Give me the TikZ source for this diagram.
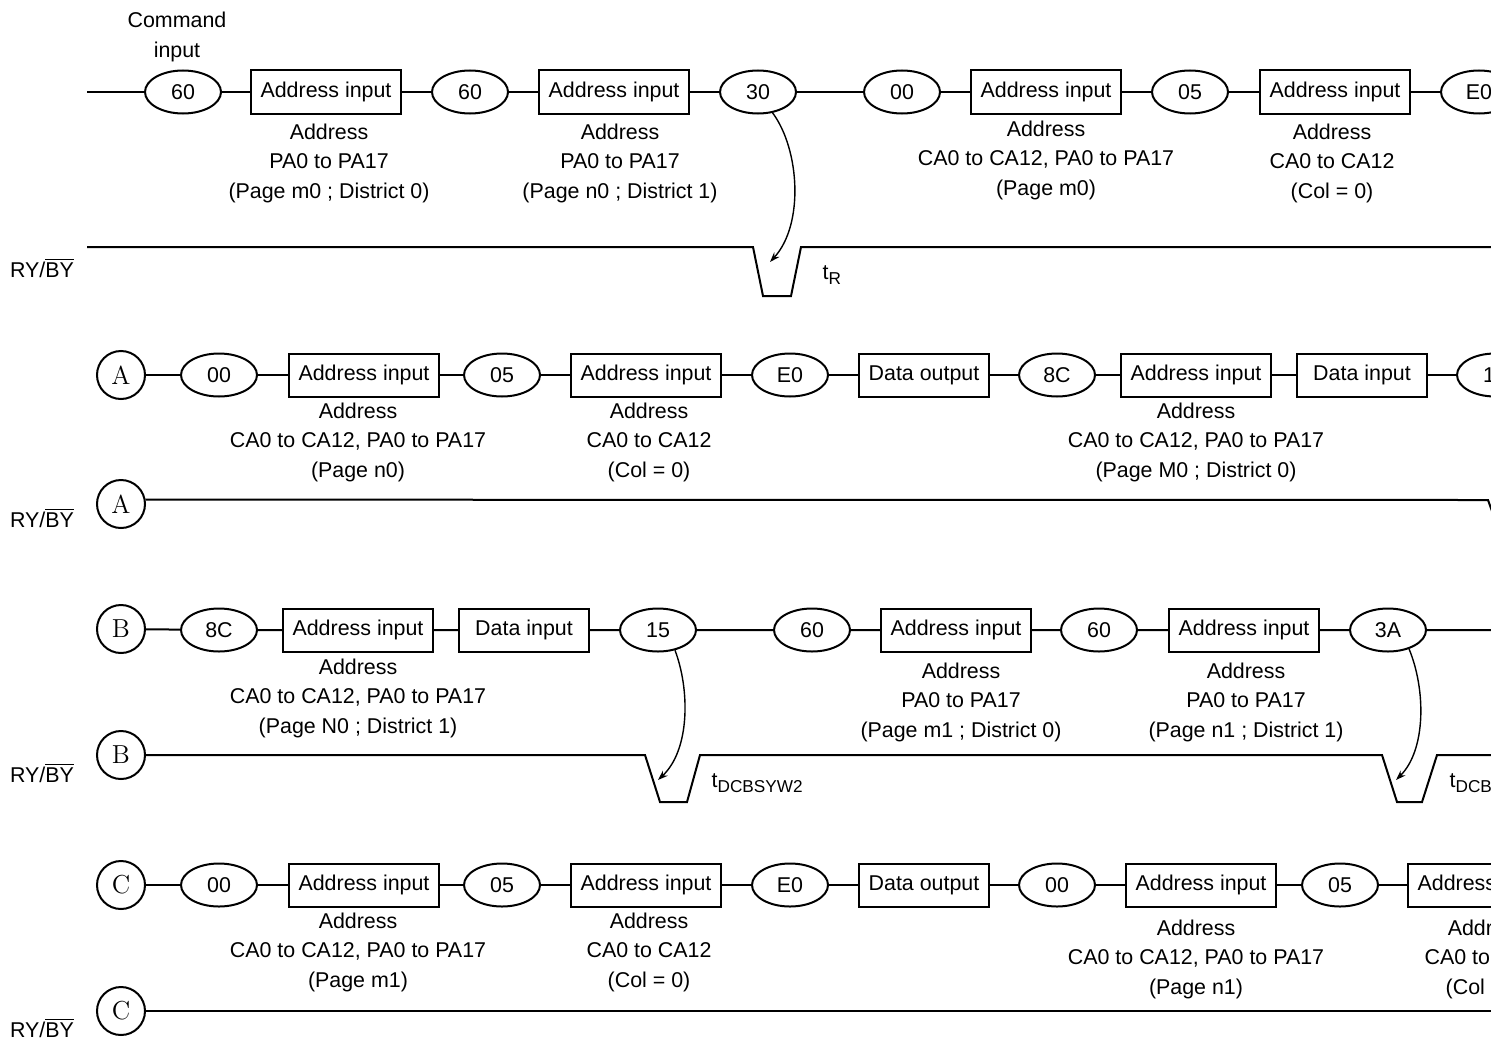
\documentclass[tikz,border=0pt]{standalone}
\usepackage{fontspec}
\setsansfont{Liberation Sans}
\usetikzlibrary{shapes.geometric,arrows.meta}

\newcommand{\rybar}{RY/$\overline{\mbox{BY}}$}
\newcommand{\tlow}[1]{t\raisebox{-0.45ex}{\fontsize{8.6}{10}\selectfont #1}}

\begin{document}
\begin{tikzpicture}[
    x=0.5pt,
    y=-0.5pt,
    line width=1pt,
    every node/.style={
        font=\sffamily\fontsize{10.7}{14.75}\selectfont
    },
    cmd/.style={
        draw,
        ellipse,
        minimum width=38pt,
        minimum height=21.5pt,
        inner sep=0pt
    },
    addrbox/.style={
        draw,
        rectangle,
        minimum width=75pt,
        minimum height=21.5pt,
        inner sep=0pt
    },
    databox/.style={
        addrbox,
        minimum width=65pt
    },
    link/.style={
        draw,
        circle,
        minimum size=24pt,
        inner sep=0pt,
        font=\rmfamily\fontsize{13}{14}\selectfont
    },
    note/.style={
        align=center
    },
    timing/.style={
        -{Stealth[length=5pt,width=3.5pt]},
        line width=0.7pt
    }
]

\useasboundingbox (0,0) rectangle (1491,1038);
\clip (0,0) rectangle (1491,1038);

% first row: commands
\coordinate (s1) at (87,92);
\node[note] (cmdtext) at (177,37) {Command\\input};
\node[cmd] (c11) at (183,92) {60};
\node[addrbox] (b11) at (326,92) {Address input};
\node[cmd] (c12) at (470,92) {60};
\node[addrbox] (b12) at (614,92) {Address input};
\node[cmd] (c13) at (758,92) {30};
\node[cmd] (c14) at (902,92) {00};
\node[addrbox] (b13) at (1046,92) {Address input};
\node[cmd] (c15) at (1190,92) {05};
\node[addrbox] (b14) at (1335,92) {Address input};
\node[cmd] (c16) at (1479,92) {E0};

\node[note] (l11) at (329,163) {Address\\PA0 to PA17\\(Page m0 ; District 0)};
\node[note] (l12) at (620,163) {Address\\PA0 to PA17\\(Page n0 ; District 1)};
\node[note] (l13) at (1046,160) {Address\\CA0 to CA12, PA0 to PA17\\(Page m0)};
\node[note] (l14) at (1332,163) {Address\\CA0 to CA12\\(Col = 0)};

\draw (s1) -- (c11) -- (b11) -- (c12) -- (b12) -- (c13) -- (c14) -- (b13) -- (c15) -- (b14) -- (c16);

% first row: busy signal
\node (ry1) at (42,268) {\rybar};
\coordinate (r1s) at (87,247);
\coordinate (r1e) at (1491,247);
\draw (r1s) -- (753,247) -- (763,296) -- (791,296) -- (801,247) -- (r1e);
\node[anchor=west] (tr1) at (815,275) {\tlow{R}};
\coordinate (t1) at (770,262);
\draw[timing] (c13.-55) .. controls (800,150) and (804,225) .. (t1);

% second row
\node[link] (A1) at (121,375) {A};
\node[cmd] (c21) at (219,375) {00};
\node[addrbox] (b21) at (364,375) {Address input};
\node[cmd] (c22) at (502,375) {05};
\node[addrbox] (b22) at (646,375) {Address input};
\node[cmd] (c23) at (790,375) {E0};
\node[databox] (d21) at (924,375) {Data output};
\node[cmd] (c24) at (1057,375) {8C};
\node[addrbox] (b23) at (1196,375) {Address input};
\node[databox] (d22) at (1362,375) {Data input};
\node[cmd] (c25) at (1495,375) {15};

\node[note] (l21) at (358,442) {Address\\CA0 to CA12, PA0 to PA17\\(Page n0)};
\node[note] (l22) at (649,442) {Address\\CA0 to CA12\\(Col = 0)};
\node[note] (l23) at (1196,442) {Address\\CA0 to CA12, PA0 to PA17\\(Page M0 ; District 0)};

\draw (A1) -- (c21) -- (b21) -- (c22) -- (b22) -- (c23) -- (d21) -- (c24) -- (b23) -- (d22) -- (c25);

\node (ry2) at (42,518) {\rybar};
\node[link] (A2) at (121,504) {A};
\coordinate (r2e) at (1488,500);
\draw (A2.10) -- (r2e) -- (1493,514);

% third row
\node[link] (B1) at (121,629) {B};
\node[cmd] (c31) at (219,630) {8C};
\node[addrbox] (b31) at (358,630) {Address input};
\node[databox] (d31) at (524,630) {Data input};
\node[cmd] (c32) at (658,630) {15};
\node[cmd] (c33) at (812,630) {60};
\node[addrbox] (b32) at (956,630) {Address input};
\node[cmd] (c34) at (1099,630) {60};
\node[addrbox] (b33) at (1244,630) {Address input};
\node[cmd] (c35) at (1388,630) {3A};
\coordinate (e3) at (1491,630);

\node[note] (l31) at (358,698) {Address\\CA0 to CA12, PA0 to PA17\\(Page N0 ; District 1)};
\node[note] (l32) at (961,702) {Address\\PA0 to PA17\\(Page m1 ; District 0)};
\node[note] (l33) at (1246,702) {Address\\PA0 to PA17\\(Page n1 ; District 1)};

\draw (B1) -- (c31) -- (b31) -- (d31) -- (c32) -- (c33) -- (b32) -- (c34) -- (b33) -- (c35) -- (e3);

\node (ry3) at (42,773) {\rybar};
\node[link] (B2) at (121,755) {B};
\coordinate (r3e) at (1491,755);
\draw (B2) -- (645,755) -- (660,802) -- (687,802) -- (700,755) -- (1382,755) -- (1397,802) -- (1422,802) -- (1437,755) -- (r3e);
\node[anchor=west] (tr2) at (704,783) {\tlow{DCBSYW2}};
\node[anchor=west] (tr3) at (1442,783) {\tlow{DCBSYW2}};
\coordinate (t2) at (658,780);
\coordinate (t3) at (1396,780);
\draw[timing] (c32.-50) .. controls (690,690) and (690,750) .. (t2);
\draw[timing] (c35.-42) .. controls (1426,690) and (1426,750) .. (t3);

% fourth row
\node[link] (C1) at (121,885) {C};
\node[cmd] (c41) at (219,885) {00};
\node[addrbox] (b41) at (364,885) {Address input};
\node[cmd] (c42) at (502,885) {05};
\node[addrbox] (b42) at (646,885) {Address input};
\node[cmd] (c43) at (790,885) {E0};
\node[databox] (d41) at (924,885) {Data output};
\node[cmd] (c44) at (1057,885) {00};
\node[addrbox] (b43) at (1201,885) {Address input};
\node[cmd] (c45) at (1340,885) {05};
\node[addrbox] (b44) at (1483,885) {Address input};

\node[note] (l41) at (358,952) {Address\\CA0 to CA12, PA0 to PA17\\(Page m1)};
\node[note] (l42) at (649,952) {Address\\CA0 to CA12\\(Col = 0)};
\node[note] (l43) at (1196,959) {Address\\CA0 to CA12, PA0 to PA17\\(Page n1)};
\node[note] (l44) at (1487,959) {Address\\CA0 to CA12\\(Col = 0)};

\draw (C1) -- (c41) -- (b41) -- (c42) -- (b42) -- (c43) -- (d41) -- (c44) -- (b43) -- (c45) -- (b44);

\node (ry4) at (42,1028) {\rybar};
\node[link] (C2) at (121,1011) {C};
\coordinate (r4e) at (1491,1011);
\draw (C2) -- (r4e);

\end{tikzpicture}
\end{document}
